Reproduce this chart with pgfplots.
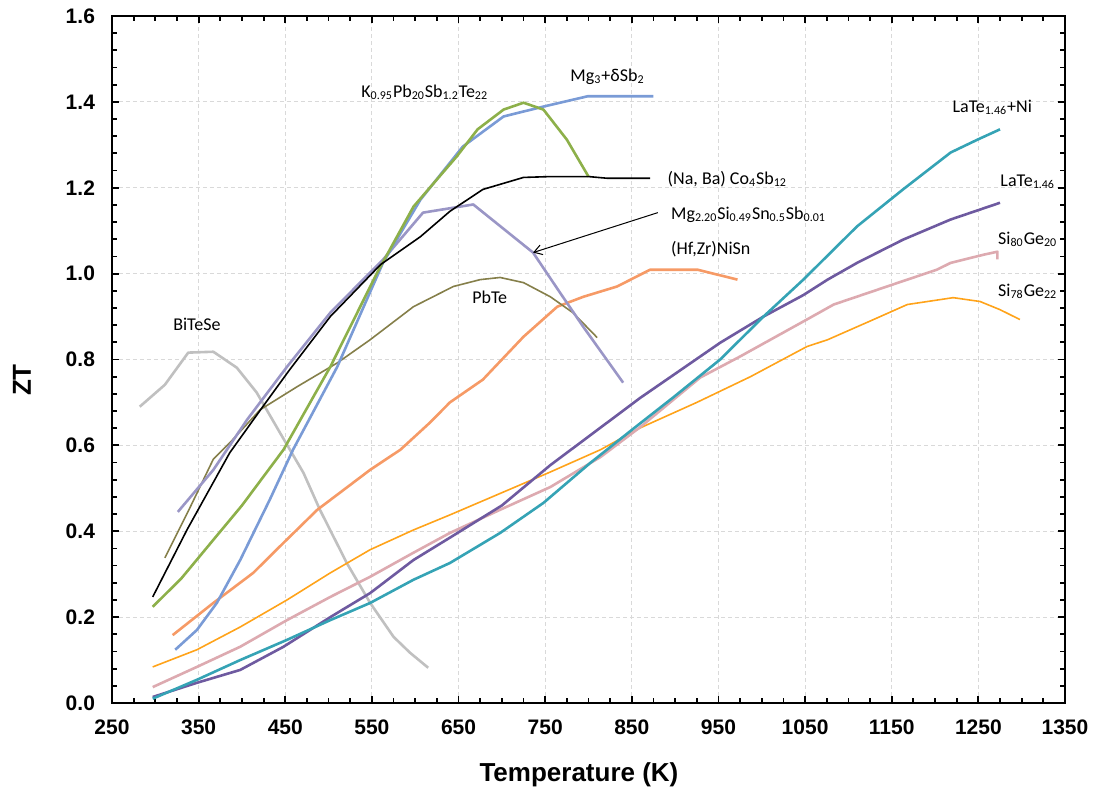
\documentclass[border=0pt]{standalone}
\usepackage{fontspec}
\setmainfont{Carlito}
\newfontfamily\arial{Liberation Sans}
\usepackage{pgfplots}
\pgfplotsset{compat=1.18}
\usetikzlibrary{arrows.meta}
\definecolor{cgrey}{HTML}{C0C0C0}
\definecolor{cgreen}{HTML}{8DB04A}
\definecolor{cblue}{HTML}{7A9BD6}
\definecolor{clpur}{HTML}{9A96C6}
\definecolor{colive}{HTML}{857F4A}
\definecolor{csalm}{HTML}{F69A66}
\definecolor{cteal}{HTML}{35A3B5}
\definecolor{cpur}{HTML}{6E5AA0}
\definecolor{cpink}{HTML}{DDAAB0}
\definecolor{corange}{HTML}{FFA31A}
\begin{document}
\begin{tikzpicture}
\begin{axis}[name=ax,
  scale only axis, width=476.5pt, height=343.5pt,
  xmin=250, xmax=1350, ymin=0, ymax=1.6,
  xtick={250,350,...,1350}, ytick={0,0.2,...,1.6},
  minor x tick num=3, minor y tick num=4,
  tick align=inside,
  major tick length=3.5pt, minor tick length=2.3pt,
  every tick/.style={black, line width=0.9pt},
  axis line style={line width=1.3pt},
  grid=major,
  major grid style={gray!30, line width=0.5pt, dash pattern=on 2pt off 1.5pt},
  /pgf/number format/assume math mode=true,
  /pgf/number format/1000 sep={},
  yticklabel style={/pgf/number format/fixed, /pgf/number format/fixed zerofill, /pgf/number format/precision=1, xshift=-5pt},
  xticklabel style={yshift=-5pt},
  ticklabel style={font=\arial\bfseries\fontsize{10.5}{12}\selectfont},
  xlabel={Temperature (K)}, ylabel={ZT},
  label style={font=\arial\bfseries\fontsize{13}{15}\selectfont},
  xlabel style={at={(axis description cs:0.49,0)}, anchor=center, yshift=-36pt},
  ylabel style={at={(axis description cs:0,0.47)}, anchor=center, rotate=0, yshift=45pt},
  every axis plot/.append style={no markers, line join=round},
]
% BiTeSe
\addplot[cgrey, line width=1.3pt] coordinates {
(282,0.690)(311,0.741)(338,0.816)(367,0.818)(394,0.781)(417,0.723)(444,0.629)(471,0.536)(490,0.450)(521,0.326)(548,0.233)(575,0.154)(594,0.117)(615,0.082)};
% Hf,Zr NiSn
\addplot[csalm, line width=1.3pt] coordinates {
(320,0.158)(367,0.233)(413,0.303)(448,0.373)(487,0.450)(548,0.543)(583,0.590)(617,0.653)(640,0.700)(678,0.753)(725,0.853)(764,0.923)(794,0.946)(833,0.970)(871,1.009)(926,1.009)(972,0.986)};
% Si78Ge22
\addplot[corange, line width=0.8pt] coordinates {
(297,0.084)(348,0.124)(398,0.177)(452,0.240)(502,0.303)(548,0.357)(598,0.403)(640,0.438)(698,0.488)(756,0.538)(814,0.590)(860,0.641)(925,0.700)(987,0.760)(1052,0.830)(1076,0.846)(1129,0.893)(1168,0.928)(1221,0.944)(1252,0.935)(1275,0.916)(1298,0.893)};
% Si80Ge20
\addplot[cpink, line width=1.3pt] coordinates {
(297,0.037)(348,0.084)(398,0.131)(452,0.193)(502,0.247)(548,0.294)(598,0.350)(640,0.396)(698,0.450)(756,0.503)(814,0.573)(860,0.643)(929,0.758)(975,0.807)(1052,0.893)(1083,0.928)(1168,0.986)(1202,1.009)(1218,1.025)(1256,1.044)(1272,1.051)(1272,1.033)};
% LaTe1.46
\addplot[cpur, line width=1.3pt] coordinates {
(297,0.014)(348,0.047)(398,0.077)(448,0.131)(502,0.200)(548,0.256)(598,0.333)(640,0.385)(700,0.460)(756,0.554)(860,0.711)(952,0.839)(1002,0.900)(1048,0.950)(1076,0.986)(1110,1.025)(1163,1.079)(1218,1.126)(1275,1.165)};
% LaTe1.46+Ni
\addplot[cteal, line width=1.3pt] coordinates {
(297,0.010)(348,0.054)(398,0.100)(452,0.147)(502,0.193)(548,0.233)(598,0.287)(640,0.326)(698,0.396)(748,0.466)(802,0.559)(850,0.636)(898,0.712)(952,0.800)(1002,0.900)(1048,0.986)(1110,1.110)(1163,1.196)(1218,1.282)(1249,1.312)(1275,1.336)};
% PbTe
\addplot[colive, line width=0.8pt] coordinates {
(311,0.338)(340,0.455)(367,0.568)(386,0.606)(421,0.683)(464,0.737)(510,0.792)(548,0.846)(598,0.923)(644,0.970)(675,0.986)(698,0.991)(725,0.979)(756,0.946)(782,0.909)(810,0.851)};
% Mg2Si
\addplot[clpur, line width=1.3pt] coordinates {
(326,0.445)(367,0.543)(406,0.660)(452,0.783)(502,0.909)(563,1.033)(609,1.142)(667,1.161)(736,1.049)(767,0.956)(794,0.876)(840,0.746)};
% Mg3Sb2
\addplot[cblue, line width=1.3pt] coordinates {
(323,0.124)(348,0.170)(371,0.233)(398,0.333)(432,0.473)(459,0.590)(510,0.783)(563,1.026)(606,1.172)(655,1.296)(702,1.366)(748,1.389)(799,1.413)(875,1.413)};
% K-Pb-Sb-Te
\addplot[cgreen, line width=1.3pt] coordinates {
(297,0.224)(330,0.290)(367,0.380)(400,0.460)(448,0.590)(502,0.783)(556,1.002)(598,1.156)(648,1.273)(672,1.336)(702,1.382)(725,1.398)(748,1.382)(775,1.312)(800,1.226)};
% Na,Ba Co4Sb12
\addplot[black, line width=0.8pt] coordinates {
(297,0.247)(337,0.405)(386,0.583)(424,0.690)(455,0.776)(502,0.900)(560,1.021)(606,1.086)(640,1.145)(678,1.196)(725,1.224)(756,1.226)(800,1.226)(822,1.222)(871,1.222)};
\draw[black, line width=0.5pt, -{Straight Barb[length=4pt,width=5pt]}] (axis cs:880,1.142) -- (axis cs:736,1.049);
\begin{scope}[every node/.style={font=\fontsize{9}{11}\selectfont, inner sep=0pt}]
\node at (axis cs:348,0.881) {BiTeSe};
\node at (axis cs:611,1.422) {K\textsubscript{0.95}Pb\textsubscript{20}Sb\textsubscript{1.2}Te\textsubscript{22}};
\node at (axis cs:822,1.459) {Mg\textsubscript{3}+δSb\textsubscript{2}};
\node[anchor=west] at (axis cs:891,1.221) {(Na, Ba) Co\textsubscript{4}Sb\textsubscript{12}};
\node[anchor=west] at (axis cs:895,1.138) {Mg\textsubscript{2.20}Si\textsubscript{0.49}Sn\textsubscript{0.5}Sb\textsubscript{0.01}};
\node[anchor=west] at (axis cs:895,1.056) {(Hf,Zr)NiSn};
\node at (axis cs:686,0.944) {PbTe};
\node at (axis cs:1266,1.387) {LaTe\textsubscript{1.46}+Ni};
\node at (axis cs:1307,1.214) {LaTe\textsubscript{1.46}};
\node at (axis cs:1307,1.079) {Si\textsubscript{80}Ge\textsubscript{20}};
\node at (axis cs:1307,0.958) {Si\textsubscript{78}Ge\textsubscript{22}};
\end{scope}
\end{axis}
\pgfresetboundingbox
\useasboundingbox ([shift={(-56pt,-48.5pt)}]ax.south west) rectangle ([shift={(14.5pt,8pt)}]ax.north east);
\end{tikzpicture}
\end{document}
